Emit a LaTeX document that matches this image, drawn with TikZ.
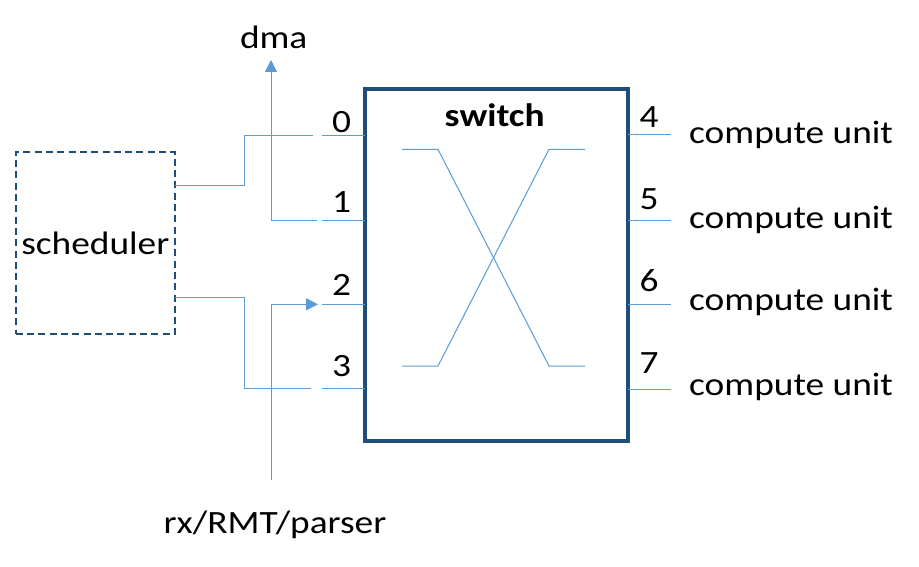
\documentclass[tikz,border=0pt]{standalone}
\usepackage{fontspec}
\setmainfont{Carlito}[FakeStretch=1.15]
\usetikzlibrary{arrows.meta}
\definecolor{wire}{RGB}{91,155,213}
\definecolor{boxblue}{RGB}{31,78,121}
\begin{document}
\begin{tikzpicture}[x=1pt,y=-1pt,
  wireline/.style={draw=wire,line width=1pt},
  arrowline/.style={wireline,-{Triangle[length=12pt,width=12pt]}},
  lbl/.style={inner sep=0pt,anchor=base,font=\fontsize{32.5}{39}\selectfont},
  lblw/.style={lbl,anchor=base west},
  switchbox/.style={draw=boxblue,line width=4pt,minimum width=263.5pt,minimum height=351pt,inner sep=0pt},
  schedbox/.style={draw=boxblue,line width=2pt,dash pattern=on 7pt off 4.3pt,minimum width=159.3pt,minimum height=182pt,inner sep=0pt,font=\fontsize{32.5}{39}\selectfont}]
\useasboundingbox (0,0) rectangle (919,567);
\fill[white] (0,0) rectangle (919,567);
% main boxes
\node[switchbox] (sw) at (496.25,265) {};
\node[schedbox] (sch) at (95.35,243.3) {scheduler};
\node[lbl,font=\fontsize{32.5}{39}\selectfont\bfseries] (swt) at (494.7,126.7) {switch};
% port coordinates on switch edges
\coordinate (L0) at (364.5,135.5);
\coordinate (L1) at (364.5,220);
\coordinate (L2) at (364.5,304.3);
\coordinate (L3) at (364.5,388.8);
\coordinate (R4) at (628,135);
\coordinate (R5) at (628,220);
\coordinate (R6) at (628,304.3);
\coordinate (R7) at (628,389);
% stubs
\coordinate (S0) at (322,135.5);
\coordinate (S1) at (322,220);
\coordinate (S2) at (322,304.3);
\coordinate (S3) at (322,388.8);
\coordinate (E4) at (670.7,135);
\coordinate (E5) at (670.7,220);
\coordinate (E6) at (670.7,304.3);
\coordinate (E7) at (670.7,389);
\foreach \a/\b in {S0/L0,S1/L1,S2/L2,S3/L3,R4/E4,R5/E5,R6/E6,R7/E7}
  \draw[wireline] (\a) -- (\b);
% scheduler outputs
\coordinate (q0) at (175,186);
\coordinate (q0e) at (313,135.5);
\coordinate (q1) at (175,297);
\coordinate (q1e) at (311,388.8);
\draw[wireline] (q0) -- (244,186) -- (244,135.5) -- (q0e);
\draw[wireline] (q1) -- (244,297) -- (244,388.8) -- (q1e);
% dma
\coordinate (d0) at (317,220);
\coordinate (dtip) at (271,60);
\draw[arrowline] (d0) -| (dtip);
% rx
\coordinate (r0) at (271,480);
\coordinate (rtip) at (318,304.3);
\draw[arrowline] (r0) |- (rtip);
% crossbar inside switch
\coordinate (x1) at (402,149.3);
\coordinate (x2) at (438,149.3);
\coordinate (x3) at (549,366);
\coordinate (x4) at (585,366);
\coordinate (y1) at (402,366);
\coordinate (y2) at (438,366);
\coordinate (y3) at (549,149.3);
\coordinate (y4) at (585,149.3);
\draw[wireline] (x1) -- (x2) -- (x3) -- (x4);
\draw[wireline] (y1) -- (y2) -- (y3) -- (y4);
% labels
\node[lbl] (dma) at (273.7,48.3) {dma};
\node[lbl] (rx) at (275,533.3) {rx/RMT/parser};
\node[lbl] (n0) at (341.5,132.3) {0};
\node[lbl] (n1) at (341.5,212.7) {1};
\node[lbl] (n2) at (341.5,295) {2};
\node[lbl] (n3) at (341.5,376.7) {3};
\node[lbl] (n4) at (649,127.3) {4};
\node[lbl] (n5) at (649,209) {5};
\node[lbl] (n6) at (649,291.7) {6};
\node[lbl] (n7) at (649,373) {7};
\node[lblw] (c4) at (689,143.3) {compute unit};
\node[lblw] (c5) at (689,228.3) {compute unit};
\node[lblw] (c6) at (689,310.7) {compute unit};
\node[lblw] (c7) at (689,395) {compute unit};
\end{tikzpicture}
\end{document}
